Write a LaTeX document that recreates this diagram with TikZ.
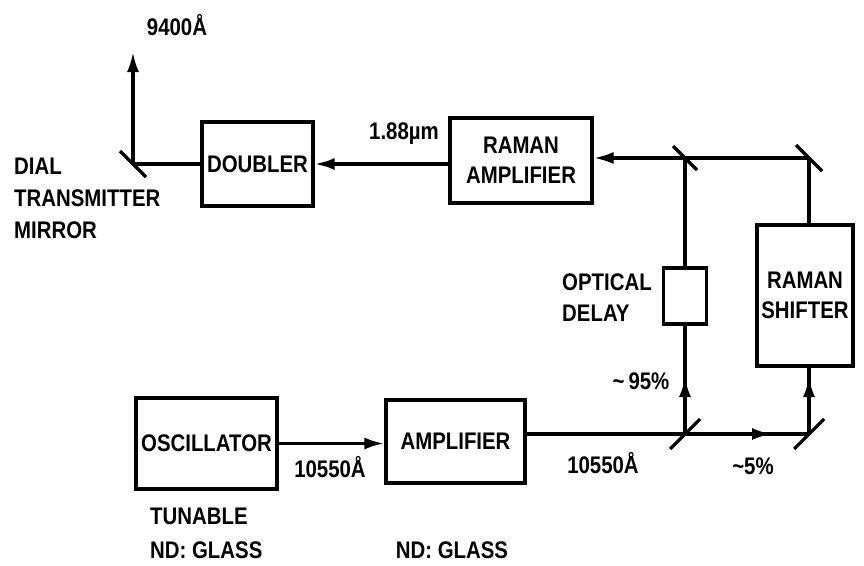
\documentclass[tikz,border=0pt]{standalone}
\usepackage{fontspec}
\setmainfont{Liberation Sans}[FakeStretch=0.85]
\usetikzlibrary{arrows.meta,decorations.markings}
\begin{document}
\begin{tikzpicture}[x=1pt,y=-1pt,
  lw/.style={line width=3.2pt},
  box/.style={draw,lw,rectangle,inner sep=0pt,align=center,font=\fontsize{24}{30}\selectfont\bfseries},
  lbl/.style={font=\fontsize{24}{30}\selectfont\bfseries,inner sep=0pt},
  beam/.style={line width=3.2pt},
  tip/.style={-{Latex[length=20pt,width=12pt]}},
  mirror/.style={line width=3.2pt},
  midarrow/.style={postaction={decorate},decoration={markings,mark=at position #1 with {\arrow{Latex[length=20pt,width=12pt]}}}}
]
\useasboundingbox (0,0) rectangle (864,565);

% boxes
\node[box,minimum width=141,minimum height=91] (osc) at (206.5,443.5) {OSCILLATOR};
\node[box,minimum width=139,minimum height=83] (amp) at (455.5,441.5) {AMPLIFIER};
\node[box,minimum width=111,minimum height=84] (dbl) at (257.5,164) {DOUBLER};
\node[box,minimum width=142,minimum height=85] (ramp) at (521,160.5) {RAMAN\\AMPLIFIER};
\node[box,minimum width=43,minimum height=56] (delay) at (685,296) {};
\node[box,minimum width=96,minimum height=141] (shift) at (805,295.5) {RAMAN\\SHIFTER};

% mirror points
\coordinate (md) at (133,164);
\coordinate (out) at (133,52);
\coordinate (m1) at (685,158);
\coordinate (m2) at (809,158);
\coordinate (m3) at (685,434);
\coordinate (m4) at (809,434);

% mirrors
\draw[mirror] (md) ++(-13,-13) -- ++(26,26);
\draw[mirror] (m1) ++(-12,-12) -- ++(24,24);
\draw[mirror] (m2) ++(-13,-13) -- ++(26,26);
\draw[mirror] (m3) ++(-15,15) -- ++(30,-30);
\draw[mirror] (m4) ++(-15,15) -- ++(30,-30);

% beams
\draw[beam,tip] (osc.east) -- (amp.west |- osc.east);
\draw[beam] (amp.east |- m3) -- (m3);
\draw[beam,midarrow=87pt] (m3) -- (m4);
\draw[beam,midarrow=57pt] (m3) -- (delay.south);
\draw[beam] (delay.north) -- (m1);
\draw[beam,midarrow=57pt] (m4) -- (shift.south -| m4);
\draw[beam] (shift.north -| m2) -- (m2);
\draw[beam] (m2) -- (m1);
\draw[beam,tip] (m1) -- (ramp.east |- m1);
\draw[beam,tip] (ramp.west |- dbl.east) -- (dbl.east);
\draw[beam] (dbl.west) -- (md);
\draw[beam,tip] (md) -- (out);

% labels
\node[lbl] (l9400) at (177,25) {9400Å};
\node[lbl,align=left,anchor=west,font=\fontsize{24}{32}\selectfont\bfseries] (ldial) at (14,198) {DIAL\\TRANSMITTER\\MIRROR};
\node[lbl] (l188) at (404,134) {1.88µm};
\node[lbl,align=left,anchor=west,font=\fontsize{24}{31}\selectfont\bfseries] (lopt) at (562,298) {OPTICAL\\DELAY};
\node[lbl] (l95) at (641,381) {\textasciitilde\,95\%};
\node[lbl] (l5) at (753,466) {\textasciitilde5\%};
\node[lbl] (lw1) at (330,467) {10550Å};
\node[lbl] (lw2) at (603,463) {10550Å};
\node[lbl,align=left,anchor=west,font=\fontsize{24}{34}\selectfont\bfseries] (ltun) at (150,533) {TUNABLE\\ND: GLASS};
\node[lbl] (lnd) at (452,550) {ND: GLASS};
\end{tikzpicture}
\end{document}
